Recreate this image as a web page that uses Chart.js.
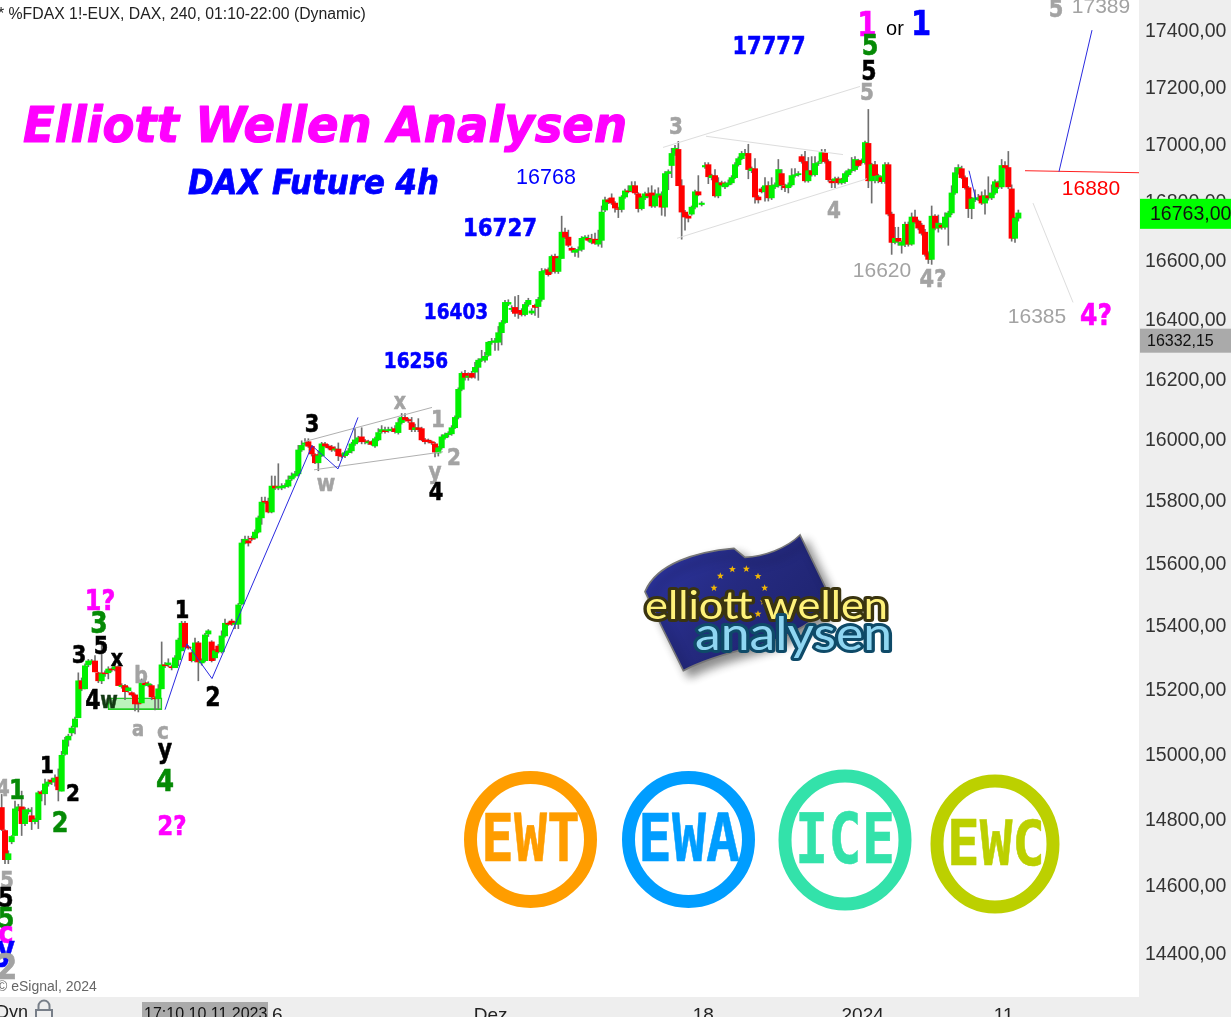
<!DOCTYPE html>
<html><head><meta charset="utf-8">
<style>html,body{margin:0;padding:0;background:#fff;overflow:hidden}canvas{display:block}</style>
<script src="https://cdn.jsdelivr.net/npm/chart.js@4/dist/chart.umd.min.js"></script>
</head><body>
<canvas id="c" width="1231" height="1017"></canvas>
<script>
// ---- values ----
const opens=[
14840,14770,14682,14736,14755,14836,14842,14791,14827,14815,
14797,14803,14888,14882,14912,14924,14918,14933,14890,15003,
15047,15069,15087,15116,15231,15206,15281,15290,15293,15256,
15231,15256,15256,15268,15268,15275,15213,15216,15200,15194,
15187,15162,15162,15225,15216,15216,15178,15175,15206,15281,
15281,15275,15272,15297,15325,15412,15337,15319,15294,15350,
15287,15294,15378,15353,15303,15340,15322,15372,15412,15419,
15409,15409,15473,15668,15675,15683,15684,15703,15749,15803,
15800,15768,15852,15846,15846,15850,15852,15875,15885,15892,
15970,15988,15997,15982,15955,15928,15951,15990,15983,15980,
15970,15973,15953,15951,15961,15967,15990,16000,16013,16000,
15993,15997,15983,16003,16030,16033,16033,16035,16040,16027,
16060,16077,16070,16060,16037,16043,16040,16003,16002,15997,
15990,15960,15977,16010,16020,16023,16043,16077,16170,16223,
16210,16223,16227,16243,16267,16267,16283,16327,16327,16327,
16359,16393,16455,16437,16444,16434,16434,16420,16454,16425,
16451,16447,16471,16566,16572,16566,16617,16566,16610,16700,
16683,16645,16631,16638,16641,16679,16679,16665,16676,16659,
16672,16776,16811,16818,16800,16781,16778,16821,16842,16842,
16860,16832,16781,16818,16832,16835,16790,16825,16825,16786,
16902,16930,16972,16986,16860,16769,16755,16762,16786,16839,
16795,16925,16933,16888,16895,16825,16870,16856,16863,16870,
16888,16933,16954,16969,16972,16912,16919,16821,16849,16839,
16860,16818,16856,16860,16902,16860,16853,16863,16895,16898,
16961,16944,16877,16912,16898,16937,16944,16975,16944,16877,
16877,16884,16870,16874,16898,16912,16916,16947,16947,16940,
17007,16877,16933,16877,16888,16874,16933,16762,16665,16679,
16655,16659,16727,16659,16752,16738,16724,16700,16628,16607,
16755,16714,16724,16717,16752,16766,16835,16905,16919,16888,
16853,16781,16811,16813,16825,16800,16825,16818,16835,16870,
16856,16930,16923,16849,16679,16748];
const highs=[
14880,14772,14709,14755,14860,14850,14890,14840,14838,14840,
14808,14890,14892,14927,14925,14930,14940,14958,15012,15055,
15065,15090,15118,15256,15240,15284,15298,15298,15310,15258,
15347,15262,15275,15272,15285,15280,15222,15220,15212,15197,
15190,15165,15237,15230,15228,15220,15182,15219,15353,15288,
15300,15280,15310,15365,15418,15418,15340,15322,15365,15355,
15300,15380,15392,15357,15330,15345,15388,15425,15416,15425,
15418,15475,15680,15690,15690,15690,15710,15755,15816,15816,
15813,15885,15885,15925,15860,15860,15885,15895,15900,15985,
16000,16007,16007,15985,15958,15967,15995,15995,15988,15985,
15980,15993,15958,15965,15975,15995,16040,16015,16043,16005,
16002,16000,16012,16040,16050,16045,16045,16045,16050,16073,
16090,16090,16075,16077,16055,16073,16045,16008,16006,16000,
15995,15982,16020,16025,16030,16050,16082,16175,16228,16233,
16225,16230,16260,16272,16300,16293,16330,16340,16340,16380,
16400,16468,16470,16450,16481,16485,16440,16461,16475,16440,
16455,16478,16576,16575,16578,16622,16625,16618,16755,16714,
16707,16650,16645,16650,16685,16688,16690,16693,16697,16707,
16790,16821,16816,16832,16805,16786,16826,16848,16860,16874,
16874,16836,16824,16838,16853,16860,16846,16853,16839,16909,
16915,16990,17000,17014,16881,16775,16760,16790,16845,16895,
16805,16940,16940,16900,16916,16888,16876,16873,16880,16895,
16940,16960,16979,16986,17004,16925,16954,16826,16855,16888,
16874,16888,16870,16951,16916,16866,16870,16919,16919,16909,
16968,16979,16958,16961,16961,16945,16986,16986,16950,16882,
16890,16890,16886,16908,16918,16958,16961,16952,16953,17015,
17126,16938,16945,16900,16893,16940,16940,16769,16717,16717,
16670,16735,16735,16766,16776,16742,16730,16710,16633,16790,
16760,16759,16730,16766,16772,16860,16923,16933,16928,16894,
16858,16820,16846,16830,16839,16846,16891,16863,16880,16876,
16951,16944,16979,16863,16752,16776];
const lows=[
14770,14670,14670,14730,14755,14830,14755,14785,14820,14773,
14790,14776,14860,14848,14905,14910,14905,14860,14890,15000,
15028,15060,15066,15116,15200,15206,15275,15285,15259,15225,
15222,15245,15237,15260,15262,15216,15208,15172,15195,15183,
15137,15134,15162,15215,15212,15172,15140,15144,15206,15272,
15275,15265,15272,15278,15325,15337,15330,15290,15290,15231,
15280,15290,15370,15290,15295,15318,15318,15368,15405,15405,
15395,15395,15470,15665,15658,15675,15680,15700,15728,15795,
15765,15765,15840,15840,15840,15845,15848,15870,15880,15885,
15965,15985,15978,15950,15925,15902,15948,15980,15973,15965,
15965,15935,15944,15945,15955,15960,15985,15995,15990,15990,
15988,15985,15978,16000,16025,16025,16028,16030,16025,16022,
16055,16065,16060,16030,16030,16030,16000,15990,15993,15988,
15947,15950,15972,16005,16012,16018,16040,16072,16165,16200,
16200,16207,16207,16200,16262,16260,16280,16320,16300,16300,
16318,16390,16450,16430,16414,16407,16415,16415,16448,16420,
16417,16410,16465,16560,16550,16559,16560,16559,16610,16678,
16650,16631,16617,16614,16635,16675,16668,16660,16658,16652,
16648,16770,16798,16795,16769,16750,16769,16816,16835,16838,
16830,16769,16776,16812,16820,16785,16785,16820,16758,16755,
16846,16888,16965,16860,16676,16707,16735,16758,16780,16825,
16790,16920,16867,16880,16820,16818,16858,16850,16858,16865,
16884,16928,16950,16964,16884,16905,16800,16800,16835,16807,
16807,16812,16850,16855,16846,16839,16835,16858,16890,16893,
16938,16872,16872,16893,16893,16930,16938,16938,16875,16853,
16853,16865,16865,16868,16892,16906,16910,16925,16935,16935,
16853,16800,16870,16870,16868,16868,16756,16624,16660,16655,
16628,16650,16652,16655,16730,16708,16690,16618,16593,16590,
16708,16700,16710,16710,16655,16760,16830,16900,16884,16848,
16750,16746,16805,16808,16795,16762,16810,16812,16830,16850,
16850,16918,16850,16669,16665,16738];
const closes=[
14773,14682,14700,14752,14836,14842,14791,14833,14833,14797,
14803,14885,14882,14912,14918,14918,14930,14894,15000,15047,
15059,15084,15112,15231,15206,15278,15293,15293,15259,15231,
15253,15253,15268,15265,15275,15216,15216,15197,15209,15187,
15159,15159,15225,15219,15222,15181,15175,15206,15281,15278,
15287,15272,15303,15359,15412,15337,15334,15294,15350,15290,
15294,15375,15388,15294,15325,15322,15372,15412,15409,15409,
15412,15470,15668,15680,15668,15680,15703,15749,15800,15800,
15768,15852,15846,15850,15852,15854,15872,15885,15892,15970,
15985,15993,15982,15957,15928,15951,15990,15983,15977,15970,
15973,15951,15949,15961,15967,15990,16003,16010,15997,15997,
15997,15988,16007,16027,16037,16030,16037,16038,16030,16060,
16077,16070,16065,16037,16043,16037,16003,15997,15998,15993,
15963,15977,16013,16020,16025,16043,16077,16170,16223,16210,
16214,16210,16243,16267,16272,16280,16327,16330,16332,16359,
16393,16461,16461,16441,16424,16427,16420,16454,16468,16432,
16444,16471,16566,16569,16555,16617,16566,16610,16700,16683,
16655,16638,16638,16641,16679,16683,16672,16675,16662,16672,
16769,16811,16804,16800,16783,16778,16821,16842,16839,16860,
16835,16781,16818,16832,16825,16790,16825,16832,16786,16902,
16909,16972,16990,16860,16769,16752,16748,16786,16839,16828,
16800,16930,16891,16895,16825,16870,16863,16867,16870,16888,
16933,16954,16972,16972,16916,16919,16821,16811,16839,16860,
16818,16860,16863,16916,16863,16853,16863,16895,16898,16902,
16944,16877,16912,16898,16937,16940,16975,16944,16881,16870,
16884,16870,16881,16902,16912,16916,16951,16930,16940,17010,
16877,16933,16895,16895,16874,16933,16762,16665,16679,16669,
16665,16727,16659,16752,16735,16714,16696,16624,16607,16755,
16714,16731,16717,16752,16766,16835,16905,16923,16888,16853,
16781,16814,16818,16818,16800,16825,16818,16835,16874,16856,
16930,16923,16856,16679,16748,16766];
const priceTicks=[17400,17200,17000,16800,16600,16400,16200,16000,15800,15600,15400,15200,15000,14800,14600,14400];
const dateTickBars=[82.7,146.7,210.5,258.3,300.6];
const dateTickLabels=['6','Dez','18','2024','11'];
const lastPrice=16763;
const refPrice=16332.15;
// wave lines as [bar index, price] pairs
const blueWave=[[49,15141],[55.6,15347],[63.1,15238],[93.1,15984],[100.9,15908],[106.9,16077]];
const blueShort=[[290.2,16912],[292.3,16811]];
const blueTarget=[[317.2,16909],[327.1,17407]];
const channelUpperA=[[90.7,15997],[129.1,16110]];
const channelLowerA=[[93.7,15905],[132.4,15964]];
const channelUpperB=[[198.4,16993],[257.5,17207]];
const channelMidB=[[211.3,17032],[252.4,16968]];
const channelLowerB=[[202.6,16679],[259.6,16884]];
const fallbackPath=[[309.4,16800],[321.4,16461]];
const levelLine=[[307,16912],[341.2,16905]];
const zoneBar=40, zoneLow=15141, zoneHigh=15178;
// ---- wave labels: text, centre x, centre y, font px, colour, bold ----
const BLK='#000',GRY='#a3a3a3',GRN='#058a05',MAG='#ff00ff',BLU='#0000ff';
const waveLabels=[
['17777',769,46,21,BLU,1],['16768',546,177,21.5,BLU,0],['16727',500,228,21.3,BLU,1],['16403',456,312,18.5,BLU,1],['16256',416,361,18.5,BLU,1],
['17389',1101,6,21,GRY,0],['5',1056,9,21,GRY,1],['16880',1091,188,21,'#ff0000',0],['16620',882,270,21,GRY,0],['16385',1037,316,21,GRY,0],
['4?',1096,316,25,MAG,1],['4?',933,279,21,GRY,1],
['1',867,26,28,MAG,1],['or',895,28,20,BLK,0],['1',921,25,29,BLU,1],['5',870,46,24,GRN,1],['5',869,72,22,BLK,1],['5',867,92,20,GRY,1],
['3',676,126,20,GRY,1],['4',834,210,20,GRY,1],
['5',7,880,20,GRY,1],['5',6,899,22,BLK,1],['5',6,919,24,GRN,1],['c',6,934,26,MAG,1],['y',6,950,28,BLU,1],['2',7,968,30,GRY,1],
['4',3,789,19,GRY,1],['1',17,790,23,GRN,1],['1',47,765,20,BLK,1],['2',73,793,20,BLK,1],['2',60,823,24,GRN,1],
['1?',100,601,24,MAG,1],['3',99,624,25,GRN,1],['3',79,655,21,BLK,1],['5',101,646,21,BLK,1],['x',117,659,19,BLK,1],
['4',93,701,22,BLK,1],['w',109,701,19,'#143a14',1],['b',141,676,19,GRY,1],['a',138,729,18,GRY,1],['c',163,731,20,GRY,1],
['y',165,750,22,BLK,1],['4',165,782,26,GRN,1],['2?',172,826,23,MAG,1],['1',182,610,21,BLK,1],['2',213,698,22,BLK,1],
['3',312,424,21,BLK,1],['w',326,483,20,GRY,1],['x',400,402,19,GRY,1],['1',438,419,20,GRY,1],['2',454,457,20,GRY,1],['y',435,471,20,GRY,1],['4',436,492,21,BLK,1]
];
const badges=[
{t:'EWT',c:'#ff9d00',cx:530.5,cy:839.5,rx:60,ry:62,lw:13,x0:481,w:99,fs:66,ty:844},
{t:'EWA',c:'#009dff',cx:688.5,cy:839.5,rx:60,ry:62,lw:13,x0:638,w:102,fs:66,ty:844},
{t:'ICE',c:'#33e2aa',cx:845,cy:840,rx:60,ry:64,lw:13,x0:795,w:100,fs:70,ty:845},
{t:'EWC',c:'#bcd000',cx:995,cy:844,rx:58,ry:63,lw:13,x0:947,w:98,fs:62,ty:849}
];
if([highs,lows,closes].some(a=>a.length!==opens.length)) throw new Error('length mismatch '+[opens.length,highs.length,lows.length,closes.length]);

const toPts=a=>a.map(p=>({x:p[0],y:p[1]}));
const lineDs=(a,color,w)=>({type:'line',data:toPts(a),borderColor:color,borderWidth:w||1,pointRadius:0,tension:0,fill:false,order:1,parsing:{xAxisKey:'x',yAxisKey:'y'}});
const idx=opens.map((_,i)=>i);
const sans='"Liberation Sans",Arial,sans-serif';
const wide='"DejaVu Sans",Verdana,sans-serif';

function star(ctx,x,y,r){ctx.beginPath();for(let i=0;i<10;i++){const a=-Math.PI/2+i*Math.PI/5,q=i%2?r*.42:r;ctx.lineTo(x+q*Math.cos(a),y+q*Math.sin(a));}ctx.closePath();ctx.fill();}
// text stretched or squeezed to span exactly w pixels
function fitText(c,t,x,y,w,strokeW,strokeCol){const n=c.measureText(t).width,s=w/n;c.save();c.translate(x,y);c.scale(s,1);
 if(strokeW){c.lineWidth=strokeW;c.strokeStyle=strokeCol;c.lineJoin='round';c.strokeText(t,0,0);}
 c.fillText(t,0,0);c.restore();}

const overlay={id:'overlay',
 beforeDraw(ch){const c=ch.ctx;c.save();c.fillStyle='#fff';c.fillRect(0,0,1231,1017);c.fillStyle='#eeeeee';
  c.fillRect(1139,0,92,1017);c.fillRect(0,997,1231,20);c.restore();},
 afterDraw(ch){const c=ch.ctx,y=ch.scales.y;c.save();
  // price tags
  const ly=y.getPixelForValue(lastPrice),ry=y.getPixelForValue(refPrice);
  c.fillStyle='#00ff00';c.fillRect(1140,ly-15,91,30);
  c.fillStyle='#aaaaaa';c.fillRect(1140,ry-12,91,24);
  c.textBaseline='middle';c.textAlign='left';
  c.fillStyle='#111';c.font='19.5px '+sans;c.fillText('16763,00',1150,ly+1);
  c.font='16px '+sans;c.fillText('16332,15',1147,ry+1);
  // header, footer
  c.fillStyle='#222';c.font='15.8px '+sans;c.fillText('* %FDAX 1!-EUX, DAX, 240, 01:10-22:00 (Dynamic)',-2,14.5);
  c.fillStyle='#666';c.font='14px '+sans;c.fillText('© eSignal, 2024',-3,987);
  c.fillStyle='#aaaaaa';c.fillRect(142,1002,126,15);
  c.fillStyle='#111';c.font='16px '+sans;c.textBaseline='alphabetic';c.fillText('17:10 10.11.2023',144,1019);
  c.fillStyle='#222';c.font='18px '+sans;c.fillText('Dyn',-4,1018);
  c.strokeStyle='#777e88';c.lineWidth=2;c.strokeRect(36,1010,16,9);c.beginPath();c.arc(44,1006,5.5,Math.PI,0);c.lineTo(49.5,1010);c.moveTo(38.5,1006);c.lineTo(38.5,1010);c.stroke();
  // titles
  c.textBaseline='alphabetic';c.textAlign='left';
  c.fillStyle=MAG;c.font='italic bold 49px '+wide;
  fitText(c,'Elliott Wellen Analysen',23,142,604,1.2,MAG);
  c.fillStyle=BLU;c.font='italic bold 33px '+wide;
  fitText(c,'DAX Future 4h',188,194,251,.8,BLU);
  // wave labels: bold ones are slightly taller than the stock face
  c.textAlign='center';c.textBaseline='middle';
  waveLabels.forEach(l=>{c.fillStyle=l[4];c.save();
   if(l[5]){c.font='bold '+l[3]+'px '+wide;c.translate(l[1],l[2]+1.5);c.scale(1,1.18);c.strokeStyle=l[4];c.lineWidth=.5;c.strokeText(l[0],0,0);c.fillText(l[0],0,0);}
   else{c.font=l[3]+'px '+sans;c.fillText(l[0],l[1],l[2]+1);}
   c.restore();});
  // logo
  c.save();c.translate(620,520);c.scale(1/3,1/3);
  c.shadowColor='rgba(0,0,0,.45)';c.shadowBlur=10;c.shadowOffsetX=6;c.shadowOffsetY=6;
  const g=c.createLinearGradient(100,80,500,420);g.addColorStop(0,'#2c34a0');g.addColorStop(.5,'#252a80');g.addColorStop(1,'#1f2470');
  c.fillStyle=g;c.strokeStyle='#777';c.lineWidth=5;c.beginPath();c.moveTo(75,215);
  c.bezierCurveTo(110,130,230,95,342,85);c.lineTo(375,112);c.bezierCurveTo(430,110,500,85,540,45);
  c.lineTo(640,250);c.bezierCurveTo(560,330,450,370,400,380);c.bezierCurveTo(320,400,250,420,190,452);c.lineTo(125,320);c.closePath();c.fill();c.stroke();
  c.shadowColor='transparent';
  c.fillStyle='#f2b705';
  [[337,148],[379,147],[414,169],[434,204],[430,245],[414,282],[301,168],[282,204],[280,245],[300,280]].forEach(s=>star(c,s[0],s[1],11));
  c.restore();
  c.textAlign='left';c.textBaseline='alphabetic';
  c.font='38px Lato,"Noto Sans",sans-serif';
  const gy=c.createLinearGradient(0,590,0,620);gy.addColorStop(0,'#fff27a');gy.addColorStop(1,'#e0c620');c.fillStyle=gy;
  fitText(c,'elliott wellen',645,619,243,6,'#3a3410');
  c.font='46px Lato,"Noto Sans",sans-serif';
  const gb=c.createLinearGradient(0,625,0,665);gb.addColorStop(0,'#8fd6f2');gb.addColorStop(1,'#3a9fce');c.fillStyle=gb;
  fitText(c,'analysen',695,650,197,6,'#0e4a68');
  // badges
  badges.forEach(b=>{c.strokeStyle=b.c;c.lineWidth=b.lw;c.beginPath();c.ellipse(b.cx,b.cy,b.rx,b.ry,0,0,Math.PI*2);c.stroke();
   c.fillStyle=b.c;c.font='bold '+b.fs+'px "DejaVu Sans Mono",monospace';c.textAlign='left';c.textBaseline='middle';
   fitText(c,b.t,b.x0,b.ty,b.w,.5,b.c);});
  c.restore();}
};

new Chart(document.getElementById('c'),{
 type:'bar',
 data:{datasets:[
  lineDs(blueWave,'#2a2ae0'),lineDs(blueShort,'#2a2ae0'),lineDs(blueTarget,'#2a2ae0'),
  lineDs(channelUpperA,'#b0b0b0'),lineDs(channelLowerA,'#b0b0b0'),
  lineDs(channelUpperB,'#dddddd'),lineDs(channelMidB,'#dddddd'),lineDs(channelLowerB,'#dddddd'),
  lineDs(fallbackPath,'#dddddd'),lineDs(levelLine,'#ff2020'),
  {data:[{x:zoneBar,y:[zoneLow,zoneHigh]}],barThickness:54,grouped:false,backgroundColor:'rgba(60,220,60,.35)',borderColor:'#22cc22',borderWidth:1,borderSkipped:false,order:6},
  {data:idx.map(i=>({x:i,y:[lows[i],highs[i]]})),barThickness:1,grouped:false,backgroundColor:'#707070',borderWidth:0,order:5},
  {data:idx.map(i=>({x:i,y:[opens[i],closes[i]]})),barThickness:5.4,grouped:false,
   backgroundColor:idx.map(i=>closes[i]>=opens[i]?'#00f000':'#ff0000'),borderWidth:0,order:4}
 ]},
 options:{responsive:false,animation:false,devicePixelRatio:1,
  layout:{padding:0},
  plugins:{legend:{display:false},tooltip:{enabled:false}},
  scales:{
   x:{type:'linear',min:-0.5,max:341.2,offset:false,grid:{display:false,tickLength:0},border:{display:false},
    afterBuildTicks(s){s.ticks=dateTickBars.map(v=>({value:v}));},
    afterFit(s){s.height=20;s.paddingLeft=0;s.paddingRight=0;},
    ticks:{autoSkip:false,maxRotation:0,padding:7,color:'#222',font:{family:sans,size:19},
     callback(v){const k=dateTickBars.indexOf(v);return k<0?'':dateTickLabels[k];}}},
   y:{type:'logarithmic',position:'right',min:14274,max:17515,grid:{display:false,tickLength:0},border:{display:false},
    afterBuildTicks(s){s.ticks=priceTicks.map(v=>({value:v}));},
    afterFit(s){s.width=92;s.paddingTop=0;s.paddingBottom=0;},
    ticks:{autoSkip:false,padding:6,color:'#333',font:{family:sans,size:19.5},
     callback(v){return v.toFixed(2).replace('.',',');}}}
  }},
 plugins:[overlay]
});
</script>
</body></html>
